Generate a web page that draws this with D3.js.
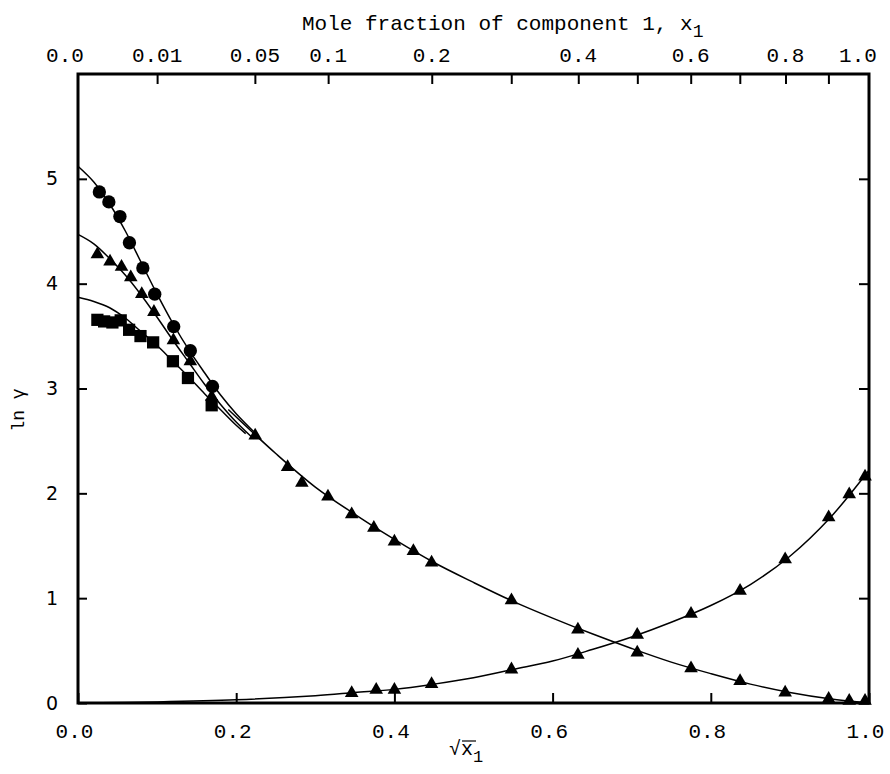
<!DOCTYPE html>
<html><head><meta charset="utf-8">
<script src="https://cdn.jsdelivr.net/npm/d3@7"></script>
<style>body{margin:0;background:#fff}svg{display:block}</style>
</head><body>
<svg id="c" width="890" height="774"></svg>
<script>
// ---- data (x = sqrt(x1), y = ln gamma) ----
const circleX = [0.027,0.039,0.053,0.065,0.082,0.097,0.121,0.142,0.170];
const circleY = [4.875,4.78,4.64,4.39,4.15,3.90,3.59,3.36,3.02];
const triLeftX = [0.0245,0.0405,0.055,0.0667,0.0806,0.096,0.1206,0.142,0.169];
const triLeftY = [4.28,4.21,4.16,4.06,3.90,3.73,3.46,3.26,2.92];
const squareX = [0.0245,0.033,0.0435,0.054,0.0646,0.079,0.095,0.120,0.139,0.169];
const squareY = [3.655,3.64,3.63,3.65,3.56,3.50,3.44,3.26,3.10,2.84];
const triDownX = [0.224,0.265,0.283,0.316,0.346,0.374,0.400,0.424,0.447,0.548,0.632,0.707,0.775,0.837,0.894,0.949,0.975,0.995];
const triDownY = [2.55,2.25,2.10,1.97,1.80,1.67,1.54,1.45,1.34,0.98,0.70,0.48,0.33,0.21,0.10,0.04,0.02,0.02];
const triUpX = [0.346,0.377,0.400,0.447,0.548,0.632,0.707,0.775,0.837,0.894,0.949,0.975,0.995];
const triUpY = [0.095,0.125,0.125,0.18,0.32,0.46,0.65,0.85,1.07,1.37,1.77,1.99,2.16];
// fitted curves
const curveCircleX = [0,0.02,0.04,0.06,0.08,0.10,0.12,0.14,0.16,0.18,0.20,0.222];
const curveCircleY = [5.12,4.97,4.76,4.50,4.20,3.90,3.62,3.37,3.15,2.94,2.76,2.59];
const curveTriX = [0,0.02,0.04,0.06,0.08,0.10,0.12,0.14,0.16,0.18,0.20,0.222];
const curveTriY = [4.47,4.38,4.24,4.08,3.89,3.68,3.46,3.25,3.04,2.85,2.68,2.52];
const curveSqX = [0,0.02,0.04,0.06,0.08,0.10,0.12,0.14,0.16,0.18,0.20,0.212];
const curveSqY = [3.87,3.83,3.77,3.67,3.54,3.41,3.26,3.11,2.95,2.80,2.65,2.57];
const curveDownX = [0.19,0.25,0.30,0.35,0.40,0.45,0.50,0.55,0.60,0.65,0.70,0.75,0.80,0.85,0.90,0.95,1.0];
const curveDownY = [2.80,2.38,2.06,1.80,1.56,1.34,1.15,0.97,0.81,0.66,0.52,0.39,0.28,0.18,0.10,0.04,0.0];
const curveUpX = [0,0.1,0.2,0.3,0.35,0.4,0.45,0.5,0.55,0.6,0.65,0.7,0.75,0.8,0.85,0.9,0.95,1.0];
const curveUpY = [0,0.01,0.03,0.07,0.10,0.13,0.18,0.24,0.32,0.40,0.51,0.63,0.77,0.93,1.13,1.40,1.76,2.22];
// axes
const bottomTicks = [0,0.2,0.4,0.6,0.8,1.0];
const bottomLabels = ["0.0","0.2","0.4","0.6","0.8","1.0"];
const topTicks = [0.01,0.05,0.1,0.2,0.3,0.4,0.5,0.6,0.7,0.8,0.9];
const topLabelVals = [0,0.01,0.05,0.1,0.2,0.4,0.6,0.8,1.0];
const topLabels = ["0.0","0.01","0.05","0.1","0.2","0.4","0.6","0.8","1.0"];
const yTicks = [0,1,2,3,4,5];

const svg = d3.select("#c");
const L=78,R=869,T=74,B=703;
const x = d3.scaleLinear().domain([0,1]).range([L,R]);
const xTop = d3.scaleSqrt().domain([0,1]).range([L,R]);
const y = d3.scaleLinear().domain([0,6]).range([B,T]);
const font = "'Liberation Mono','DejaVu Sans Mono',monospace";

// curves
const line = d3.line().x(d=>x(d[0])).y(d=>y(d[1])).curve(d3.curveCatmullRom.alpha(0.5));
const zip = (a,b)=>a.map((v,i)=>[v,b[i]]);
[[curveCircleX,curveCircleY],[curveTriX,curveTriY],[curveSqX,curveSqY],[curveDownX,curveDownY],[curveUpX,curveUpY]].forEach(([a,b])=>{
  svg.append("path").attr("d",line(zip(a,b))).attr("fill","none").attr("stroke","#000").attr("stroke-width",1.5);
});

// markers
function marks(xs,ys,type,size){
  svg.append("g").selectAll("path").data(zip(xs,ys)).join("path")
    .attr("transform",d=>`translate(${x(d[0])},${y(d[1])})`)
    .attr("d",d3.symbol(type,size)()).attr("fill","#000");
}
marks(circleX,circleY,d3.symbolCircle,140);
marks(triLeftX,triLeftY,d3.symbolTriangle,80);
marks(squareX,squareY,d3.symbolSquare,150);
marks(triDownX,triDownY,d3.symbolTriangle,80);
marks(triUpX,triUpY,d3.symbolTriangle,80);

// frame
svg.append("rect").attr("x",L).attr("y",T).attr("width",R-L).attr("height",B-T)
  .attr("fill","none").attr("stroke","#000").attr("stroke-width",3);

// bottom axis
const gb = svg.append("g").attr("transform",`translate(0,${B})`)
  .call(d3.axisBottom(x).tickValues(bottomTicks).tickSize(-10).tickPadding(20)
    .tickFormat((d,i)=>bottomLabels[i]));
// top axis ticks
const gt = svg.append("g").attr("transform",`translate(0,${T})`)
  .call(d3.axisTop(xTop).tickValues(topTicks).tickSize(-10).tickFormat(""));
// top labels
svg.append("g").selectAll("text").data(topLabelVals).join("text")
  .attr("x",(d,i)=>xTop(d)+(i===0?-13:(i===topLabelVals.length-1?-11:0)))
  .attr("y",62).attr("text-anchor","middle").text((d,i)=>topLabels[i]);
// left axis
const gl = svg.append("g").attr("transform",`translate(${L},0)`)
  .call(d3.axisLeft(y).tickValues(yTicks).tickSize(-9).tickPadding(20).tickFormat(d3.format("d")));
// right axis ticks
const gr = svg.append("g").attr("transform",`translate(${R},0)`)
  .call(d3.axisRight(y).tickValues(yTicks).tickSize(-10).tickFormat(""));
[gb,gt,gl,gr].forEach(g=>{
  g.select(".domain").remove();
  g.selectAll(".tick line").attr("stroke","#000").attr("stroke-width",2);
});
svg.selectAll("text").attr("font-family",font).attr("font-size",21).attr("fill","#000");
gb.selectAll("text").attr("font-size",21).attr("dx",-4);
gl.selectAll("text").attr("font-size",19).attr("font-family","'DejaVu Sans',sans-serif");

// titles
const t = svg.append("text").attr("x",302).attr("y",30).attr("font-family",font).attr("font-size",21).attr("fill","#000");
t.append("tspan").text("Mole fraction of component 1, x");
t.append("tspan").attr("dy",7).attr("font-size",18).text("1");

const yl = svg.append("text").attr("transform","translate(24,410) rotate(-90)").attr("text-anchor","middle")
  .attr("font-family",font).attr("font-size",18).attr("fill","#000").text("ln γ");

const xl = svg.append("text").attr("x",449).attr("y",755).attr("font-family",font).attr("font-size",20).attr("fill","#000");
xl.append("tspan").text("√x");
xl.append("tspan").attr("dy",7).attr("font-size",17).text("1");
svg.append("line").attr("x1",462).attr("x2",476).attr("y1",741).attr("y2",741).attr("stroke","#000").attr("stroke-width",1.2);
</script>
</body></html>
